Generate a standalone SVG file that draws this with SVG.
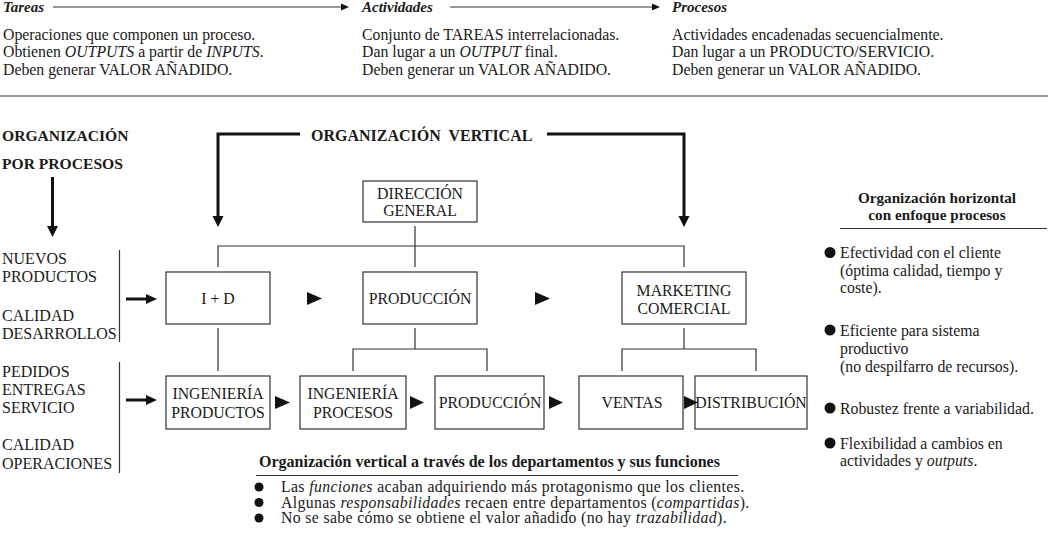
<svg xmlns="http://www.w3.org/2000/svg" width="1048" height="537" viewBox="0 0 1048 537">
<style>
text { font-family: "Liberation Serif", "Times New Roman", serif; fill: #1a1a1a; font-size: 15.8px; }
.b { font-weight: bold; }
.i { font-style: italic; }
.c { text-anchor: middle; }
.h { font-size: 15px; }
.lab { font-size: 16px; }
.bx { font-size: 15.8px; }
.rh { font-size: 15.2px; }
.bh { font-size: 16px; }
.bl { font-size: 15.8px; letter-spacing: 0.35px; }
.oh { font-size: 15.6px; }
.ov { font-size: 16px; }
.box { fill: #fff; stroke: #333; stroke-width: 1.2; }
.ln { stroke: #333; stroke-width: 1.2; fill: none; }
.thick { stroke: #111; stroke-width: 3; fill: none; }
.tri { fill: #111; }
.rule { stroke: #777; stroke-width: 1.5; }
</style>
<rect width="1048" height="537" fill="#fff"/>

<g id="header">
  <text x="3" y="12" class="b i h">Tareas</text>
  <text x="3" y="39.5">Operaciones que componen un proceso.</text>
  <text x="3" y="57">Obtienen <tspan class="i">OUTPUTS</tspan> a partir de <tspan class="i">INPUTS</tspan>.</text>
  <text x="3" y="75">Deben generar VALOR AÑADIDO.</text>
  <text x="362" y="12" class="b i h">Actividades</text>
  <text x="362" y="39.5">Conjunto de TAREAS interrelacionadas.</text>
  <text x="362" y="57">Dan lugar a un <tspan class="i">OUTPUT</tspan> final.</text>
  <text x="362" y="75">Deben generar un VALOR AÑADIDO.</text>
  <text x="672" y="12" class="b i h">Procesos</text>
  <text x="672" y="39.5">Actividades encadenadas secuencialmente.</text>
  <text x="672" y="57">Dan lugar a un PRODUCTO/SERVICIO.</text>
  <text x="672" y="75">Deben generar un VALOR AÑADIDO.</text>
  <line x1="0" y1="96" x2="1048" y2="96" class="rule"/>
</g>

<g id="labels-left">
  <text x="2" y="141" class="b oh">ORGANIZACIÓN</text>
  <text x="2" y="169" class="b oh">POR PROCESOS</text>
  <text x="311" y="141" class="b ov" xml:space="preserve">ORGANIZACIÓN  VERTICAL</text>
  <text x="2" y="264" class="lab">NUEVOS</text>
  <text x="2" y="282" class="lab">PRODUCTOS</text>
  <text x="2" y="321" class="lab">CALIDAD</text>
  <text x="2" y="339" class="lab">DESARROLLOS</text>
  <text x="2" y="377" class="lab">PEDIDOS</text>
  <text x="2" y="395" class="lab">ENTREGAS</text>
  <text x="2" y="413" class="lab">SERVICIO</text>
  <text x="2" y="450" class="lab">CALIDAD</text>
  <text x="2" y="469" class="lab">OPERACIONES</text>
</g>

<g id="connectors">
  <line x1="53" y1="7" x2="342" y2="7" class="ln"/>
  <polygon points="341,3.5 349,7 341,10.5" class="tri"/>
  <line x1="450" y1="7" x2="653" y2="7" class="ln"/>
  <polygon points="652,3.5 660,7 652,10.5" class="tri"/>

  <line x1="52.5" y1="177" x2="52.5" y2="227" class="thick"/>
  <polygon points="47,226 58,226 52.5,237" class="tri"/>
  <path d="M300,134 H218 V217" class="thick"/>
  <polygon points="212.5,216 223.5,216 218,227" class="tri"/>
  <path d="M547,134 H684 V217" class="thick"/>
  <polygon points="678.5,216 689.5,216 684,227" class="tri"/>

  <line x1="119.5" y1="250" x2="119.5" y2="342" class="ln"/>
  <line x1="119.5" y1="362" x2="119.5" y2="473" class="ln"/>
  <line x1="126" y1="299" x2="148" y2="299" class="thick"/>
  <polygon points="146,294 157,299 146,304" class="tri"/>
  <line x1="126" y1="400" x2="148" y2="400" class="thick"/>
  <polygon points="146,395 157,400 146,405" class="tri"/>

  <path d="M218,267 V246 H684 V267" class="ln"/>
  <line x1="415" y1="226" x2="415" y2="267" class="ln"/>
  <line x1="218" y1="328" x2="218" y2="371" class="ln"/>
  <line x1="415" y1="328" x2="415" y2="349" class="ln"/>
  <path d="M353,371 V349 H487 V371" class="ln"/>
  <line x1="684" y1="328" x2="684" y2="349" class="ln"/>
  <path d="M622,371 V349 H756 V371" class="ln"/>
</g>

<g id="dir">
  <rect x="363" y="181" width="114" height="41" class="box"/>
  <text x="420" y="198.5" class="c bx">DIRECCIÓN</text>
  <text x="420" y="216" class="c bx">GENERAL</text>
</g>
<g id="id">
  <rect x="166" y="272" width="104" height="52" class="box"/>
  <text x="218" y="304" class="c bx">I + D</text>
</g>
<g id="prod1">
  <rect x="363" y="272" width="114" height="52" class="box"/>
  <text x="420" y="304" class="c bx">PRODUCCIÓN</text>
</g>
<g id="mkt">
  <rect x="622" y="272" width="124" height="52" class="box"/>
  <text x="684" y="296" class="c bx">MARKETING</text>
  <text x="684" y="314" class="c bx">COMERCIAL</text>
</g>
<g id="ingprod">
  <rect x="166" y="376" width="104" height="53" class="box"/>
  <text x="218" y="399" class="c bx">INGENIERÍA</text>
  <text x="218" y="418" class="c bx">PRODUCTOS</text>
</g>
<g id="ingproc">
  <rect x="300" y="376" width="106" height="53" class="box"/>
  <text x="353" y="399" class="c bx">INGENIERÍA</text>
  <text x="353" y="418" class="c bx">PROCESOS</text>
</g>
<g id="prod2">
  <rect x="435" y="376" width="109" height="53" class="box"/>
  <text x="490" y="408" class="c bx">PRODUCCIÓN</text>
</g>
<g id="ventas">
  <rect x="579" y="376" width="104" height="53" class="box"/>
  <text x="632" y="408" class="c bx">VENTAS</text>
</g>
<g id="dist">
  <rect x="695" y="376" width="112" height="53" class="box"/>
  <text x="751" y="408" class="c bx">DISTRIBUCIÓN</text>
</g>

<g id="flow-arrows">
  <polygon points="307,292 322,298.5 307,305" class="tri"/>
  <polygon points="535,292 550,298.5 535,305" class="tri"/>
  <polygon points="275,396 290,402.5 275,409" class="tri"/>
  <polygon points="410,396 424,402.5 410,409" class="tri"/>
  <polygon points="549,396 563,402.5 549,409" class="tri"/>
  <polygon points="684,396 698,402.5 684,409" class="tri"/>
</g>

<g id="horizontal-panel">
  <text x="937" y="203" class="b c rh">Organización horizontal</text>
  <text x="937" y="220" class="b c rh">con enfoque procesos</text>
  <line x1="840" y1="228.5" x2="1047" y2="228.5" class="ln"/>
  <circle cx="830" cy="252.5" r="5.5" class="tri"/>
  <text x="840" y="258">Efectividad con el cliente</text>
  <text x="840" y="275.5">(óptima calidad, tiempo y</text>
  <text x="840" y="293">coste).</text>
  <circle cx="830" cy="330" r="5.5" class="tri"/>
  <text x="840" y="335.5">Eficiente para sistema</text>
  <text x="840" y="353.5">productivo</text>
  <text x="840" y="371.5">(no despilfarro de recursos).</text>
  <circle cx="830" cy="408" r="5.5" class="tri"/>
  <text x="840" y="413.5">Robustez frente a variabilidad.</text>
  <circle cx="830" cy="443" r="5.5" class="tri"/>
  <text x="840" y="448.5">Flexibilidad a cambios en</text>
  <text x="840" y="466">actividades y <tspan class="i">outputs</tspan>.</text>
</g>

<g id="vertical-panel">
  <text x="259" y="467" class="b bh">Organización vertical a través de los departamentos y sus funciones</text>
  <line x1="256" y1="475.5" x2="738" y2="475.5" class="ln"/>
  <circle cx="259" cy="487" r="4.5" class="tri"/>
  <text x="281" y="492" class="bl">Las <tspan class="i">funciones</tspan> acaban adquiriendo más protagonismo que los clientes.</text>
  <circle cx="259" cy="502.5" r="4.5" class="tri"/>
  <text x="281" y="507.5" class="bl">Algunas <tspan class="i">responsabilidades</tspan> recaen entre departamentos (<tspan class="i">compartidas</tspan>).</text>
  <circle cx="259" cy="518" r="4.5" class="tri"/>
  <text x="281" y="523" class="bl">No se sabe cómo se obtiene el valor añadido (no hay <tspan class="i">trazabilidad</tspan>).</text>
</g>
</svg>
